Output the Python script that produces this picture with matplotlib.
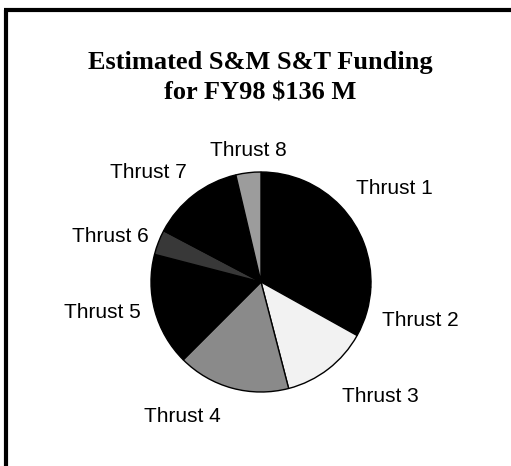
import matplotlib.pyplot as plt

# funding by thrust ($M, FY98 total 136)
labels = ['Thrust 1', 'Thrust 2', 'Thrust 3', 'Thrust 4',
          'Thrust 5', 'Thrust 6', 'Thrust 7', 'Thrust 8']
funding = [35, 10, 17.5, 22.5, 22.5, 5, 18.5, 5]
colors = ['#000000', '#000000', '#f2f2f2', '#8a8a8a',
          '#000000', '#383838', '#000000', '#9c9c9c']

# label positions in pixel space (x, y from top)
label_pos = [(394, 188), (420, 321), (380, 397), (182, 417),
             (102, 312), (110, 236), (148, 173), (248, 150)]

W, H = 511, 466
fig = plt.figure(figsize=(W / 100, H / 100), dpi=100)
ax = fig.add_axes([0, 0, 1, 1])

cx, cy, r = 261, H - 282, 110
wedges, _ = ax.pie(funding, colors=colors, startangle=90, counterclock=False,
                   center=(cx, cy), radius=r,
                   wedgeprops=dict(edgecolor='black', linewidth=1))

for name, (x, y) in zip(labels, label_pos):
    ax.text(x, H - y, name, ha='center', va='center', fontsize=15,
            family='Liberation Sans')

ax.text(W / 2 + 5, H - 62, 'Estimated S&M S&T Funding', ha='center', va='center',
        fontsize=19, fontweight='bold', family='Liberation Serif')
ax.text(W / 2 + 5, H - 93, 'for FY98 $136 M', ha='center', va='center',
        fontsize=19, fontweight='bold', family='Liberation Serif')

# slide frame (left and top edges only visible)
ax.plot([6, 6], [0, H - 10], color='black', linewidth=3, solid_capstyle='butt')
ax.plot([4, W], [H - 10, H - 10], color='black', linewidth=3, solid_capstyle='butt')

ax.set_xlim(0, W)
ax.set_ylim(0, H)
ax.set_aspect('equal')
ax.axis('off')

fig.savefig('out.png', dpi=100)
